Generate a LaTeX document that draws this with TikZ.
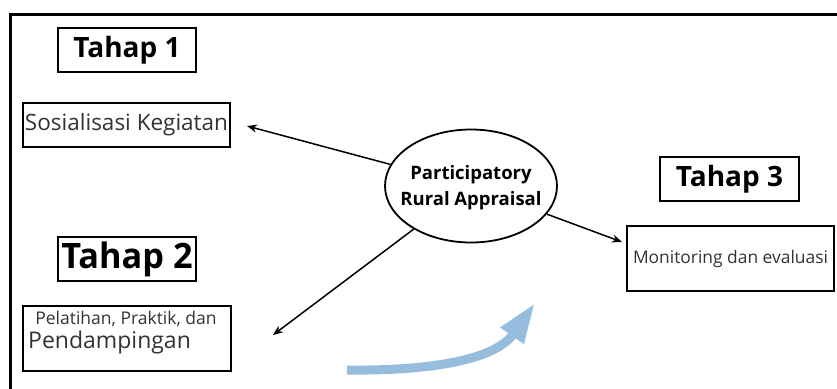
\documentclass[tikz,border=0pt]{standalone}
\usepackage{fontspec}
\setmainfont{Open Sans}
\usetikzlibrary{arrows.meta,shapes.geometric}
\definecolor{txtgray}{HTML}{333333}
\definecolor{flowblue}{RGB}{150,188,222}
\tikzset{
  titlebox/.style={draw=black, line width=1.8pt, minimum width=138pt, minimum height=44pt, inner sep=0pt, font=\bfseries\fontsize{28}{30}\selectfont},
  stepbox/.style={draw=black, line width=1.8pt, inner sep=0pt, text=txtgray},
  link/.style={draw=black, line width=1.5pt, -{Stealth[length=10pt,width=8pt]}},
}
\begin{document}
\begin{tikzpicture}[x=1pt,y=-1pt]
\useasboundingbox (0,0) rectangle (837,388);
\fill[white] (0,0) rectangle (837,388);
% frame
\draw[line width=3pt] (10,400) -- (10,14) -- (840,14);
% title boxes
\node[titlebox] (t1) at (127,50) {Tahap 1};
\node[titlebox, minimum width=138pt] (t2) at (127,259) {\fontsize{35}{36}\selectfont\addfontfeature{FakeStretch=0.98}Tahap 2};
\node[titlebox, minimum width=139pt] (t3) at (729.5,179) {Tahap 3};
% step boxes
\node[stepbox, minimum width=207pt, minimum height=44pt, font=\fontsize{22.5}{24}\selectfont] (s1) at (126.5,125) {Sosialisasi Kegiatan};
\node[stepbox, minimum width=208pt, minimum height=65pt] (s2) at (127,338.5) {};
\node[text=txtgray, font=\fontsize{17.5}{20}\selectfont, anchor=base] (s2a) at (126,324) {Pelatihan, Praktik, dan};
\node[text=txtgray, font=\fontsize{23}{26}\selectfont, anchor=base west, inner sep=0pt] (s2b) at (28,348) {Pendampingan};
\node[stepbox, minimum width=207pt, minimum height=65pt, font=\fontsize{17.4}{20}\selectfont] (s3) at (730.5,258.5) {Monitoring dan evaluasi};
% center ellipse
\node[draw=black, line width=1.8pt, ellipse, minimum width=172pt, minimum height=113pt, inner sep=0pt] (pra) at (471,186) {};
\node[align=center, inner sep=0pt, font=\bfseries\fontsize{18.5}{26}\selectfont] (pratext) at (471,188) {Participatory\\Rural Appraisal};
% arrow ends
\coordinate (e1) at (247,126);
\coordinate (e2) at (273,335);
\coordinate (e3) at (622,242);
\draw[link] (pra) -- (e1);
\draw[link] (pra) -- (e2);
\draw[link] (pra) -- (e3);
% blue flow arrow
\coordinate (b0) at (347,370);
\coordinate (b1) at (535,303);
\draw[flowblue, line width=9pt, -{Triangle[length=40pt,width=26pt]}] (b0) .. controls (430,371) and (495,360) .. (b1);
\end{tikzpicture}
\end{document}
